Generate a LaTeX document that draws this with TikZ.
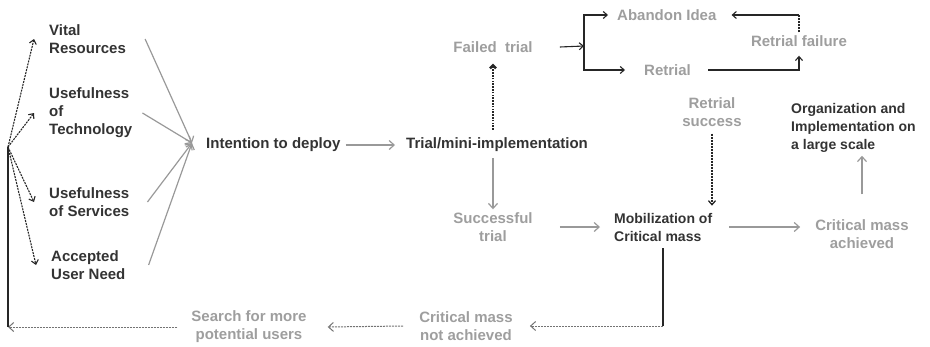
\documentclass[tikz,border=0pt]{standalone}
\usepackage{fontspec}
\setmainfont{Liberation Sans}
\usetikzlibrary{positioning, arrows.meta, calc}

\begin{document}
\begin{tikzpicture}[x=1pt, y=-1pt,
	every node/.style={font=\fontsize{15}{18}\selectfont\bfseries, inner sep=3pt},
	dark/.style={text=black!80, align=left},
	small/.style={font=\fontsize{14}{18}\selectfont\bfseries},
	pale/.style={text=black!38, align=center},
	greyarrow/.style={draw=black!40, line width=1.2pt, -{Straight Barb[length=5pt, width=9pt]}},
	darkarrow/.style={draw=black!85, line width=1.1pt, -{Straight Barb[length=4pt, width=7pt]}},
	darkdash/.style={darkarrow, dash pattern=on 2pt off 1pt},
	greydash/.style={draw=black!55, line width=1pt, dash pattern=on 2pt off 1pt, -{Straight Barb[length=5pt, width=9pt]}},
	darkline/.style={draw=black!85, line width=1.4pt}]
	\useasboundingbox (0,0) rectangle (930,346);
	% factors on the left
	\node[dark, anchor=west] (vital) at (46,39) {Vital\\Resources};
	\node[dark, anchor=west] (tech) at (46,113) {Usefulness\\of\\Technology};
	\node[dark, anchor=west] (serv) at (46,202) {Usefulness\\of Services};
	\node[dark, anchor=west] (need) at (48,265) {Accepted\\User Need};
	\coordinate (conv) at (192,143);
	\coordinate (fan) at (8,147);
	\coordinate (corner) at (8,327);
	% main line
	\node[dark, anchor=west] (intent) at (203,145) {Intention to deploy};
	\node[dark, anchor=west] (trial) at (403,145) {Trial/mini-implementation};
	\node[pale] (failed) at (493,47) {Failed\ \ trial};
	\node[pale, anchor=west] (abandon) at (614,15) {Abandon Idea};
	\node[pale, anchor=west] (retrial) at (641,70) {Retrial};
	\node[pale] (rfail) at (799,41) {Retrial failure};
	\node[pale] (rsucc) at (712,112) {Retrial\\success};
	\node[pale] (succ) at (493,227) {Successful\\trial};
	\node[dark, small, anchor=west] (mob) at (611,227) {Mobilization of\\Critical mass};
	\node[pale] (achieved) at (862,234) {Critical mass\\achieved};
	\node[dark, small, anchor=west] (org) at (788,128) {Organization and\\Implementation on\\a large scale};
	\node[pale] (notach) at (466,326) {Critical mass\\not achieved};
	\node[pale] (search) at (249,327) {Search for more\\potential users};
	% inputs converge
	\foreach \n/\s in {vital/16, tech/7, serv/15, need/20}
		\draw[greyarrow] ([xshift=\s pt]\n.east) -- (conv);
	\draw[greyarrow, shorten <=2pt, shorten >=8pt] (intent) -- (trial);
	% failure branch
	\draw[darkline, line width=2.4pt, dash pattern=on 1.6pt off 1.2pt, -{Straight Barb[length=3pt, width=6pt]}, shorten <=5pt, shorten >=8pt] (trial.north -| failed) -- (failed.south);
	\coordinate (branch) at (584,46);
	\draw[darkarrow] ([xshift=24pt]failed.east) -- (branch);
	\draw[darkarrow] (branch) |- ([xshift=-6pt]abandon.west);
	\draw[darkarrow] (branch) |- ([xshift=-16pt]retrial.west);
	\draw[darkarrow] ([xshift=14pt]retrial.east) -| ([yshift=-6pt]rfail.south);
	\coordinate (top) at (rfail.north |- abandon);
	\draw[darkline, line width=1.1pt, dash pattern=on 2pt off 1pt] (rfail.north) -- (top);
	\draw[darkarrow] (top) -- ([xshift=12pt]abandon.east);
	% success path
	\draw[greyarrow, shorten <=3pt] (trial.south -| succ) -- (succ.north);
	\draw[greyarrow] ([xshift=24pt]succ.east) -- ([xshift=-11pt]mob.west);
	\draw[darkdash, line width=1.3pt, shorten <=4pt, shorten >=4pt] (rsucc.south) -- (rsucc.south |- mob.north);
	\draw[greyarrow] ([xshift=14pt]mob.east) -- ([xshift=-12pt]achieved.west |- mob.east);
	\draw[greyarrow] ([yshift=22pt]achieved.north) -- (achieved.north |- org.south);
	% not achieved path
	\coordinate (drop) at (mob.south |- notach);
	\draw[darkline, shorten <=4pt] (mob.south) -- (drop);
	\draw[greydash] (drop) -- ([xshift=14pt]notach.east);
	\draw[greydash] ([xshift=-13pt]notach.west) -- ([xshift=18pt]search.east);
	\draw[greydash] ([xshift=-11pt]search.west) -- (corner);
	\draw[darkline] (corner) -- (fan);
	\foreach \n in {vital, tech, serv, need}
		\draw[darkdash] (fan) -- ([xshift=-12pt]\n.west);
\end{tikzpicture}
\end{document}
